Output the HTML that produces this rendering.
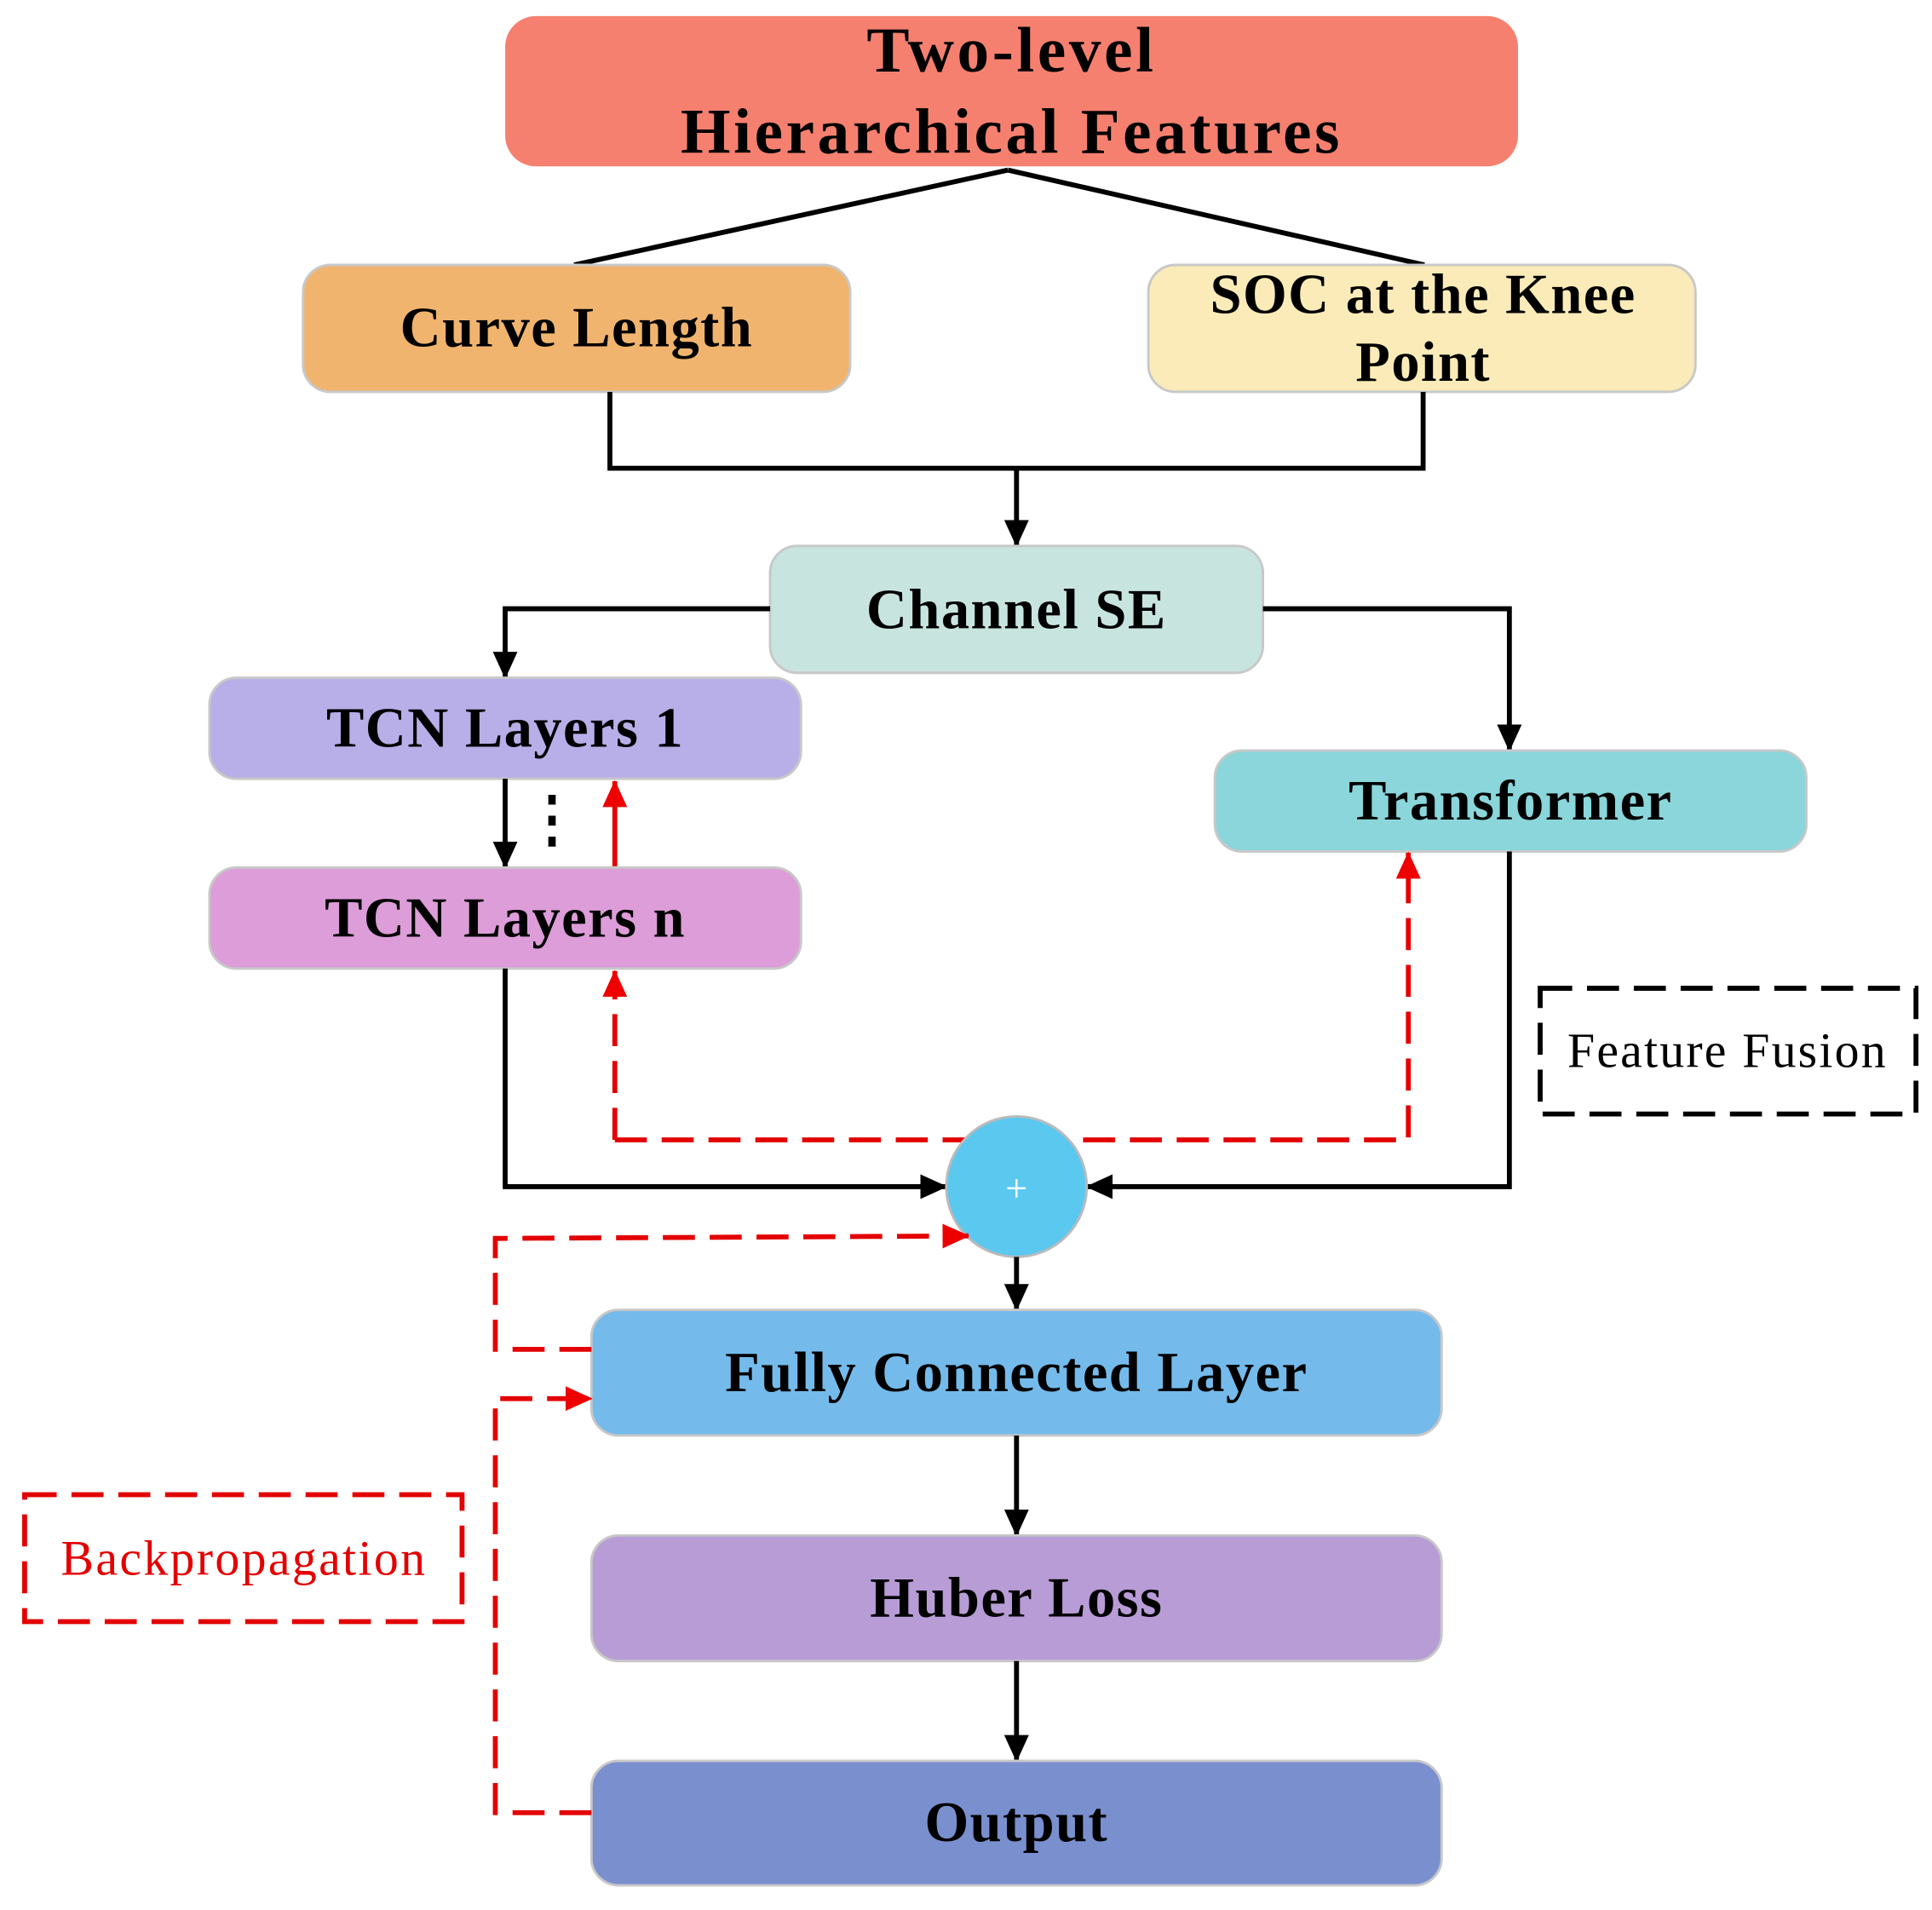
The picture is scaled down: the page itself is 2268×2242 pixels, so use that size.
<!DOCTYPE html>
<html><head><meta charset="utf-8"><style>
html,body{margin:0;padding:0;background:#fff;}
svg{display:block;}
text{font-family:"Liberation Serif",serif;}
.b{font-weight:bold;font-size:46px;text-anchor:middle;fill:#000;letter-spacing:1px;}
</style></head><body>
<svg width="2268" height="2242" viewBox="0 0 1568 1550" xmlns="http://www.w3.org/2000/svg">
<defs>
<marker id="ak" markerWidth="22" markerHeight="22" refX="21" refY="11" orient="auto" markerUnits="userSpaceOnUse" viewBox="0 0 22 22"><path d="M0,1 L22,11 L0,21 z" fill="#000"/></marker>
<marker id="ar" markerWidth="22" markerHeight="22" refX="21" refY="11" orient="auto" markerUnits="userSpaceOnUse" viewBox="0 0 22 22"><path d="M0,1 L22,11 L0,21 z" fill="#e00"/></marker>
</defs>
<style>
.k{stroke:#000;stroke-width:4;fill:none;}
.r{stroke:#e30000;stroke-width:4;fill:none;stroke-dasharray:26,12;}
.bx{stroke:#c8c8c8;stroke-width:2;}
</style>
<rect x="410" y="13" width="822" height="122" rx="25" fill="#F6806F"/>
<text class="b" x="821" y="58" style="font-size:52px;letter-spacing:2.5px">Two-level</text>
<text class="b" x="821" y="124" style="font-size:52px;letter-spacing:2.5px">Hierarchical Features</text>
<line class="k" x1="818" y1="138" x2="466" y2="215"/>
<line class="k" x1="818" y1="138" x2="1156" y2="215"/>
<rect class="bx" x="246" y="215" width="444" height="103" rx="22" fill="#F0B46E"/>
<text class="b" x="468" y="281">Curve Length</text>
<rect class="bx" x="932" y="215" width="444" height="103" rx="22" fill="#FAEBB8"/>
<text class="b" x="1155" y="254">SOC at the Knee</text>
<text class="b" x="1155" y="309">Point</text>
<polyline class="k" points="495,318 495,380 1155,380 1155,318"/>
<line class="k" x1="825" y1="380" x2="825" y2="443" marker-end="url(#ak)"/>
<rect class="bx" x="625" y="443" width="400" height="103" rx="22" fill="#C8E4DF"/>
<text class="b" x="825" y="510">Channel SE</text>
<polyline class="k" points="625,494 410,494 410,550" marker-end="url(#ak)"/>
<polyline class="k" points="1025,494 1225,494 1225,609" marker-end="url(#ak)"/>
<rect class="bx" x="170" y="550" width="480" height="82" rx="22" fill="#B8AFE8"/>
<text class="b" x="410" y="606">TCN Layers 1</text>
<line class="k" x1="410" y1="632" x2="410" y2="704" marker-end="url(#ak)"/>
<line x1="448" y1="645" x2="448" y2="692" stroke="#000" stroke-width="6" stroke-dasharray="8,9"/>
<line class="r" x1="499" y1="703" x2="499" y2="634" style="stroke-dasharray:none" marker-end="url(#ar)"/>
<rect class="bx" x="170" y="704" width="480" height="82" rx="22" fill="#DC9DD8"/>
<text class="b" x="410" y="760">TCN Layers n</text>
<rect class="bx" x="986" y="609" width="480" height="82" rx="22" fill="#8AD6DA"/>
<text class="b" x="1226" y="665">Transformer</text>
<polyline class="r" points="499,925 1143,925 1143,692" marker-end="url(#ar)"/>
<polyline class="r" points="499,925 499,788" marker-end="url(#ar)"/>
<polyline class="k" points="410,786 410,963 768,963" marker-end="url(#ak)"/>
<polyline class="k" points="1225,691 1225,963 882,963" marker-end="url(#ak)"/>
<circle cx="825" cy="963" r="57" fill="#5BC8F0" stroke="#bbb" stroke-width="2"/>
<text x="825" y="975" font-size="32" fill="#fff" text-anchor="middle">+</text>
<rect x="1250" y="802" width="305" height="102" fill="none" stroke="#000" stroke-width="4" stroke-dasharray="26,12"/>
<text x="1402" y="866" font-size="40" text-anchor="middle" letter-spacing="1.5">Feature Fusion</text>
<line class="k" x1="825" y1="1020" x2="825" y2="1063" marker-end="url(#ak)"/>
<rect class="bx" x="480" y="1063" width="690" height="102" rx="22" fill="#74BBEB"/>
<text class="b" x="825" y="1129">Fully Connected Layer</text>
<line class="k" x1="825" y1="1165" x2="825" y2="1246" marker-end="url(#ak)"/>
<rect class="bx" x="480" y="1246" width="690" height="102" rx="22" fill="#B89CD6"/>
<text class="b" x="825" y="1312">Huber Loss</text>
<line class="k" x1="825" y1="1348" x2="825" y2="1429" marker-end="url(#ak)"/>
<rect class="bx" x="480" y="1429" width="690" height="101" rx="22" fill="#7A8FCE"/>
<text class="b" x="825" y="1494">Output</text>
<polyline class="r" points="480,1095 402,1095 402,1005 786,1003" marker-end="url(#ar)"/>
<polyline class="r" points="480,1471 402,1471 402,1135 480,1135" marker-end="url(#ar)"/>
<rect x="20" y="1213" width="355" height="103" fill="none" stroke="#e30000" stroke-width="4" stroke-dasharray="26,12"/>
<text x="198" y="1278" font-size="40" fill="#e30000" text-anchor="middle" letter-spacing="1.6">Backpropagation</text>
</svg>
</body></html>
